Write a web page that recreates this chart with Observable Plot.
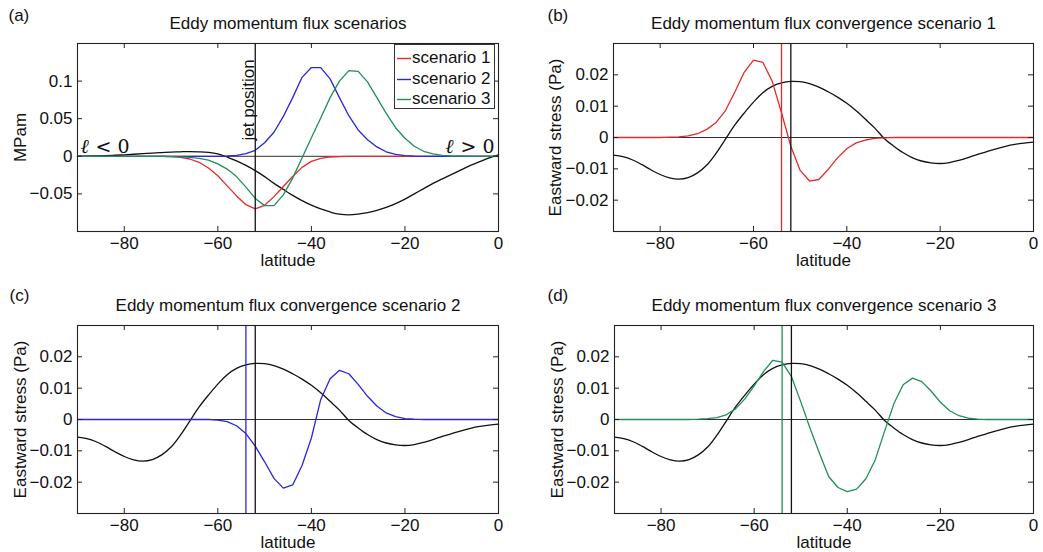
<!DOCTYPE html>
<html>
<head>
<meta charset="utf-8">
<script src="https://cdn.jsdelivr.net/npm/d3@7"></script>
<script src="https://cdn.jsdelivr.net/npm/@observablehq/plot@0.6"></script>
<style>
  html, body { margin: 0; padding: 0; background: #fff; }
  #root { position: relative; width: 1043px; height: 552px; font-family: "Liberation Sans", Arial, Helvetica, sans-serif; color: #111; overflow: hidden; }
  .panel { position: absolute; }
  .legend { position: absolute; left: 394px; top: 44px; width: 101px; height: 65px; border: 1px solid #333; background: #fff; font-size: 17px; box-sizing: border-box; padding-top: 3px; }
  .legend .row { position: relative; height: 20.5px; line-height: 20.5px; white-space: nowrap; }
  .legend svg { position: absolute; left: 2px; top: 0; }
  .legend .name { position: absolute; left: 17px; top: 0; }
</style>
</head>
<body>
<div id="root"></div>
<script>
// ---------- data ----------
const latitude = [-90,-88,-86,-84,-82,-80,-78,-76,-74,-72,-70,-68,-66,-64,-62,-60,-58,-56,-54,-52,-50,-48,-46,-44,-42,-40,-38,-36,-34,-32,-30,-28,-26,-24,-22,-20,-18,-16,-14,-12,-10,-8,-6,-4,-2,0];

// panel (a): eddy momentum flux (MPam)
const fluxMean = [0,0.0002,0.0005,0.0009,0.0014,0.002,0.0027,0.0035,0.0043,0.005,0.0056,0.006,0.0063,0.006,0.0052,0.0032,-0.001,-0.006,-0.012,-0.019,-0.027,-0.036,-0.044,-0.052,-0.059,-0.065,-0.07,-0.074,-0.077,-0.078,-0.077,-0.075,-0.072,-0.068,-0.063,-0.057,-0.05,-0.043,-0.036,-0.03,-0.024,-0.018,-0.012,-0.007,-0.002,0.002];
const flux1 = [0,0,0,0,0,0,0,0,0,0,-0.0005,-0.0013,-0.0036,-0.008,-0.0156,-0.0259,-0.0393,-0.0527,-0.0643,-0.07,-0.0652,-0.0536,-0.0402,-0.0268,-0.0147,-0.0067,-0.0027,-0.0009,-0.0004,-0.0002,0,0,0,0,0,0,0,0,0,0,0,0,0,0,0,0];
const flux2 = [0,0,0,0,0,0,0,0,0,0,0,0,0,0,0,0,0.0004,0.0013,0.0035,0.008,0.018,0.032,0.053,0.078,0.105,0.118,0.118,0.103,0.078,0.054,0.035,0.022,0.0125,0.006,0.0027,0.001,0.0003,0,0,0,0,0,0,0,0,0];
const flux3 = [0,0,0,0,0,0,0,0,0,0,-0.0003,-0.0008,-0.0015,-0.0028,-0.005,-0.01,-0.017,-0.027,-0.041,-0.056,-0.0656,-0.0656,-0.0513,-0.029,-0.0022,0.0246,0.051,0.078,0.1,0.114,0.113,0.099,0.078,0.057,0.038,0.024,0.0134,0.0067,0.0031,0.0013,0.0004,0.0001,0,0,0,0];

// panels (b)-(d): eddy momentum flux convergence (Pa)
const convMean = [-0.0056,-0.0061,-0.0071,-0.0086,-0.0103,-0.0118,-0.0129,-0.0133,-0.0128,-0.0113,-0.0088,-0.005,-0.0005,0.004,0.0078,0.0113,0.0143,0.0163,0.0174,0.0179,0.0178,0.0172,0.0161,0.0146,0.0129,0.0109,0.0085,0.0058,0.003,-0.0003,-0.0027,-0.0048,-0.0064,-0.0075,-0.0081,-0.0083,-0.008,-0.0073,-0.0064,-0.0054,-0.0045,-0.0036,-0.0028,-0.0022,-0.0018,-0.0015];
const conv1 = [0,0,0,0,0,0,0.0001,0.0002,0.0005,0.0012,0.0026,0.0048,0.0086,0.0145,0.0208,0.0247,0.024,0.018,0.0079,-0.0028,-0.0105,-0.0139,-0.0134,-0.0102,-0.0065,-0.0036,-0.0017,-0.0008,-0.0003,-0.0001,0,0,0,0,0,0,0,0,0,0,0,0,0,0,0,0];
const conv2 = [0,0,0,0,0,0,0,0,0,0,0,0,0,0,0,-0.0002,-0.0007,-0.002,-0.0045,-0.0085,-0.0135,-0.0188,-0.0219,-0.0209,-0.0147,-0.0059,0.0064,0.013,0.0157,0.0146,0.0112,0.0074,0.0043,0.0021,0.0009,0.0003,0.0001,0,0,0,0,0,0,0,0,0];
const conv3 = [0,0,0,0,0,0,0,0,0,0.0001,0.0003,0.0006,0.0015,0.0034,0.0066,0.0107,0.0153,0.0189,0.0183,0.0137,0.0057,-0.0028,-0.0107,-0.0182,-0.0217,-0.023,-0.0222,-0.0189,-0.0129,-0.0038,0.005,0.0111,0.0132,0.0121,0.0091,0.0055,0.0028,0.0012,0.0004,0.0001,0,0,0,0,0,0];

const jetLatitude = -52;
const shiftedJetLatitude = -54;
const xTicks = [-80, -60, -40, -20, 0];
const yTicksFlux = [-0.05, 0, 0.05, 0.1];
const yTicksConv = [-0.02, -0.01, 0, 0.01, 0.02];
const scenarioNames = ["scenario 1", "scenario 2", "scenario 3"];
const scenarioColors = ["#e52a2a", "#2727dc", "#1f8f57"];

// ---------- drawing ----------
const fmt = d => d < 0 ? "\u2212" + (-d) : String(d);
const rows = vals => latitude.map((lat, i) => ({lat, v: vals[i]}));
const FONT = '"Liberation Sans", Arial, Helvetica, sans-serif';
const SERIF = '"DejaVu Serif", "Liberation Serif", serif';

function makePanel(o) {
  const pw = o.width - o.ml - o.mr, ph = o.height - o.mt - o.mb;
  const tick = 5;
  const marks = [
    Plot.ruleY([0], {stroke: "#1a1a1a", strokeWidth: 0.9}),
    ...o.lines.map(s => Plot.line(rows(s.values), {x: "lat", y: "v", stroke: s.color, strokeWidth: 1.3, curve: s.smooth ? "catmull-rom" : "linear"})),
    ...o.vlines.map(v => Plot.ruleX([v.x], {stroke: v.color, strokeWidth: 1.3})),
    ...(o.extra || []),
    Plot.frame({stroke: "#222", strokeWidth: 1.1}),
    Plot.tickX(xTicks, {x: d => d, insetTop: ph - tick, stroke: "#222"}),
    Plot.tickX(xTicks, {x: d => d, insetBottom: ph - tick, stroke: "#222"}),
    Plot.tickY(o.yTicks, {y: d => d, insetRight: pw - tick, stroke: "#222"}),
    Plot.tickY(o.yTicks, {y: d => d, insetLeft: pw - tick, stroke: "#222"}),
    Plot.axisX(xTicks, {tickSize: 0, tickPadding: 5, tickFormat: fmt, label: null, fontSize: 17}),
    Plot.axisY(o.yTicks, {tickSize: 0, tickPadding: 5, tickFormat: fmt, label: null, fontSize: 17}),
    Plot.text(["latitude"], {frameAnchor: "bottom", lineAnchor: "top", dy: 22, fontSize: 17}),
    Plot.text([o.ylabel], {frameAnchor: "left", rotate: -90, dx: o.ylabelDx, textAnchor: "middle", lineAnchor: "middle", fontSize: 17}),
    Plot.text([o.title], {frameAnchor: "top", lineAnchor: "bottom", dy: o.titleDy, fontSize: 17}),
    Plot.text([o.letter], {frameAnchor: "top-left", textAnchor: "start", lineAnchor: "bottom", dx: o.letterDx, dy: o.letterDy, fontSize: 17})
  ];
  return Plot.plot({
    width: o.width, height: o.height,
    marginLeft: o.ml, marginRight: o.mr, marginTop: o.mt, marginBottom: o.mb,
    x: {domain: [-90, 0]},
    y: {domain: o.yDomain},
    style: {fontFamily: FONT, fontSize: "17px", color: "#111", background: "transparent", overflow: "visible"},
    marks
  });
}

const root = document.getElementById("root");
function place(svg, left, top) {
  const d = document.createElement("div");
  d.className = "panel";
  d.style.left = left + "px";
  d.style.top = top + "px";
  d.appendChild(svg);
  root.appendChild(d);
}

// (a)
place(makePanel({
  width: 520, height: 276, ml: 77, mr: 22, mt: 43, mb: 45,
  yDomain: [-0.1, 0.15], yTicks: yTicksFlux,
  lines: [
    {values: fluxMean, color: "#111", smooth: true},
    {values: flux1, color: scenarioColors[0]},
    {values: flux2, color: scenarioColors[1]},
    {values: flux3, color: scenarioColors[2]}
  ],
  vlines: [{x: jetLatitude, color: "#111"}],
  extra: [
    Plot.text(["jet position"], {x: () => jetLatitude, frameAnchor: "bottom", rotate: -90, textAnchor: "start", lineAnchor: "bottom", dx: -1, dy: -91, fontSize: 17}),
    Plot.text(["\u2113"], {y: () => 0, frameAnchor: "left", textAnchor: "start", lineAnchor: "bottom", dx: 3, dy: -3, fontSize: 20, fontStyle: "italic", fontFamily: SERIF}),
    Plot.text(["< 0"], {y: () => 0, frameAnchor: "left", textAnchor: "start", lineAnchor: "bottom", dx: 18, dy: -3, fontSize: 19, fontFamily: SERIF}),
    Plot.text(["> 0"], {y: () => 0, frameAnchor: "right", textAnchor: "end", lineAnchor: "bottom", dx: -4, dy: -3, fontSize: 19, fontFamily: SERIF}),
    Plot.text(["\u2113"], {y: () => 0, frameAnchor: "right", textAnchor: "end", lineAnchor: "bottom", dx: -45, dy: -3, fontSize: 20, fontStyle: "italic", fontFamily: SERIF})
  ],
  ylabel: "MPam", ylabelDx: -57,
  title: "Eddy momentum flux scenarios", titleDy: -15,
  letter: "(a)", letterDx: -69, letterDy: -23
}), 0, 0);

// (b)
place(makePanel({
  width: 523, height: 276, ml: 93, mr: 10, mt: 43, mb: 45,
  yDomain: [-0.03, 0.03], yTicks: yTicksConv,
  lines: [
    {values: convMean, color: "#111", smooth: true},
    {values: conv1, color: scenarioColors[0]}
  ],
  vlines: [{x: shiftedJetLatitude, color: scenarioColors[0]}, {x: jetLatitude, color: "#111"}],
  ylabel: "Eastward stress (Pa)", ylabelDx: -58,
  title: "Eddy momentum flux convergence scenario 1", titleDy: -15,
  letter: "(b)", letterDx: -66, letterDy: -23
}), 520, 0);

// (c)
place(makePanel({
  width: 520, height: 276, ml: 77, mr: 22, mt: 49, mb: 39,
  yDomain: [-0.03, 0.03], yTicks: yTicksConv,
  lines: [
    {values: convMean, color: "#111", smooth: true},
    {values: conv2, color: scenarioColors[1]}
  ],
  vlines: [{x: shiftedJetLatitude, color: scenarioColors[1]}, {x: jetLatitude, color: "#111"}],
  ylabel: "Eastward stress (Pa)", ylabelDx: -57,
  title: "Eddy momentum flux convergence scenario 2", titleDy: -15,
  letter: "(c)", letterDx: -68, letterDy: -25
}), 0, 276);

// (d)
place(makePanel({
  width: 523, height: 276, ml: 94, mr: 10, mt: 49, mb: 39,
  yDomain: [-0.03, 0.03], yTicks: yTicksConv,
  lines: [
    {values: convMean, color: "#111", smooth: true},
    {values: conv3, color: scenarioColors[2]}
  ],
  vlines: [{x: shiftedJetLatitude, color: scenarioColors[2]}, {x: jetLatitude, color: "#111"}],
  ylabel: "Eastward stress (Pa)", ylabelDx: -57,
  title: "Eddy momentum flux convergence scenario 3", titleDy: -15,
  letter: "(d)", letterDx: -67, letterDy: -25
}), 520, 276);

// legend for panel (a)
const legend = document.createElement("div");
legend.className = "legend";
const SVGNS = "http://www.w3.org/2000/svg";
scenarioNames.forEach((name, i) => {
  const row = document.createElement("div");
  row.className = "row";
  const sw = document.createElementNS(SVGNS, "svg");
  sw.setAttribute("width", "14");
  sw.setAttribute("height", "20");
  const ln = document.createElementNS(SVGNS, "line");
  ln.setAttribute("x1", "0"); ln.setAttribute("x2", "14");
  ln.setAttribute("y1", "10.5"); ln.setAttribute("y2", "10.5");
  ln.setAttribute("stroke", scenarioColors[i]);
  ln.setAttribute("stroke-width", "1.4");
  sw.appendChild(ln);
  const tx = document.createElement("span");
  tx.className = "name";
  tx.textContent = name;
  row.appendChild(sw);
  row.appendChild(tx);
  legend.appendChild(row);
});
root.appendChild(legend);
</script>
</body>
</html>
